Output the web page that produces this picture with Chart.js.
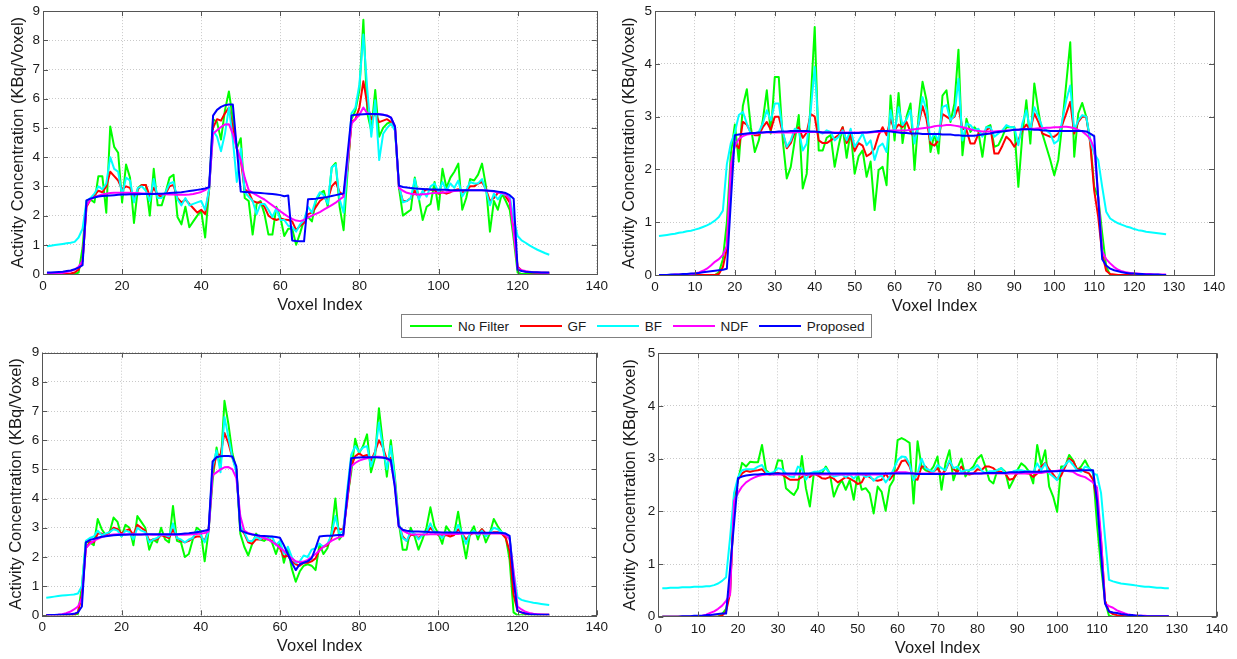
<!DOCTYPE html>
<html>
<head>
<meta charset="utf-8">
<title>Activity concentration profiles</title>
<script src="https://cdn.jsdelivr.net/npm/chart.js@4.4.1/dist/chart.umd.min.js"></script>
<style>
  html, body { margin: 0; padding: 0; background: #fff; }
  body { width: 1237px; height: 659px; position: relative; overflow: hidden;
         font-family: "Liberation Sans", Arial, Helvetica, sans-serif; }
  .panel { position: absolute; }
  #legend { position: absolute; left: 401px; top: 314px; width: 471px; height: 24px;
            box-sizing: border-box; border: 1px solid #808080; background: #fff;
            display: flex; align-items: center; padding-left: 8px;
            font-size: 13.5px; color: #1a1a1a; white-space: nowrap; }
  #legend .item { display: flex; align-items: center; flex: none; margin-right: 10.5px; }
  #legend .swatch { width: 42px; height: 2px; margin-right: 6px; flex: none; }
</style>
</head>
<body>
<div class="panel" style="left:0px;top:0px"><canvas id="profTopLeft" width="612" height="320"></canvas></div>
<div class="panel" style="left:612px;top:0px"><canvas id="profTopRight" width="625" height="320"></canvas></div>
<div class="panel" style="left:0px;top:340px"><canvas id="profBottomLeft" width="612" height="319"></canvas></div>
<div class="panel" style="left:612px;top:340px"><canvas id="profBottomRight" width="625" height="319"></canvas></div>
<div id="legend"></div>
<script>
// filters compared in every panel
var seriesNames = ['No Filter', 'GF', 'BF', 'NDF', 'Proposed'];
var seriesColors = ['#00ff00', '#ff0000', '#00ffff', '#ff00ff', '#0000ff'];

// tick labels
var xTicksWide = [0, 20, 40, 60, 80, 100, 120, 140];
var xTicksFine = [0, 10, 20, 30, 40, 50, 60, 70, 80, 90, 100, 110, 120, 130, 140];
var yTicksTall = [0, 1, 2, 3, 4, 5, 6, 7, 8, 9];
var yTicksShort = [0, 1, 2, 3, 4, 5];

// ---- top left profile (voxel 1..128) ----
var tlNoFilter = [
  0,0,0,0,0,0,0,0,0.05,0.90,
  2.50,2.55,2.45,3.35,3.35,2.10,5.05,4.35,4.15,2.45,
  3.75,3.30,1.75,2.95,3.05,3.05,2.00,3.60,2.35,2.35,
  2.80,3.30,3.40,1.95,1.70,2.30,1.60,1.80,2.00,2.15,
  1.25,2.90,5.30,5.20,4.60,5.60,6.25,5.30,4.30,4.65,
  2.60,2.50,1.35,2.40,2.50,2.05,1.35,1.35,2.30,1.95,
  1.30,1.55,1.55,1.00,1.40,1.85,1.95,1.80,2.50,2.75,
  2.85,2.30,3.65,3.80,2.30,1.50,3.50,5.30,5.60,6.30,
  8.70,5.50,4.90,6.30,4.70,5.00,5.15,5.20,4.95,2.95,
  2.00,2.10,2.20,3.30,2.60,1.85,2.30,2.40,3.15,2.20,
  3.60,2.95,3.30,3.50,3.78,2.20,2.60,3.25,3.20,3.40,
  3.78,3.00,1.45,2.50,2.20,2.75,2.50,2.20,1.20,0.05,
  0,0,0,0,0,0,0,0
];
var tlGF = [
  0,0,0,0,0,0,0.02,0.05,0.15,0.45,
  2.30,2.55,2.70,2.85,2.80,3.00,3.50,3.35,3.20,2.90,
  3.00,2.95,2.60,2.90,3.05,3.05,2.65,2.95,2.70,2.65,
  2.75,3.00,3.05,2.60,2.45,2.55,2.40,2.25,2.10,2.20,
  2.05,2.90,5.00,5.30,5.25,5.50,5.70,5.00,4.30,3.90,
  2.90,2.80,2.50,2.45,2.45,2.30,2.00,1.90,1.85,1.90,
  1.87,1.85,1.80,1.50,1.65,1.75,2.05,2.10,2.30,2.50,
  2.60,2.55,3.00,3.15,2.80,2.70,3.60,5.20,5.30,5.70,
  6.60,5.80,5.30,5.50,5.20,5.25,5.30,5.20,5.00,2.98,
  2.50,2.50,2.60,2.85,2.62,2.80,2.90,2.88,2.87,2.75,
  2.80,2.75,2.80,2.87,2.90,2.80,2.85,3.00,3.00,3.10,
  3.15,2.90,2.50,2.60,2.78,2.80,2.65,2.45,1.50,0.25,
  0.12,0.08,0.06,0.05,0.04,0.04,0.04,0.04
];
var tlBF = [
  0.95,0.97,0.99,1.01,1.03,1.05,1.07,1.10,1.25,1.55,
  2.50,2.60,2.75,3.00,2.90,3.10,4.00,3.60,3.50,2.70,
  3.30,3.20,2.45,2.95,3.00,2.85,2.50,3.25,2.60,2.60,
  2.80,3.10,3.15,2.55,2.35,2.60,2.35,2.40,2.45,2.50,
  2.20,2.90,4.90,4.70,4.20,4.80,5.70,4.60,3.15,4.30,
  2.80,2.65,2.50,2.05,2.40,2.40,2.20,1.95,2.25,1.85,
  1.85,1.65,1.60,1.45,1.70,1.85,2.30,2.10,2.55,2.80,
  2.70,2.40,3.65,3.75,2.55,2.10,3.70,5.50,5.70,6.50,
  8.20,6.30,4.70,5.95,3.90,4.80,5.00,5.15,4.90,3.05,
  2.45,2.50,2.60,3.25,2.55,2.85,2.65,3.00,3.10,2.80,
  3.15,2.85,3.10,2.95,3.20,2.65,2.87,3.15,3.10,3.10,
  3.25,2.85,2.35,2.75,2.55,2.75,2.70,2.65,1.90,1.30,
  1.15,1.07,0.98,0.90,0.83,0.77,0.71,0.66
];
var tlNDF = [
  0,0,0.01,0.02,0.04,0.07,0.10,0.15,0.25,0.45,
  2.35,2.55,2.63,2.68,2.72,2.75,2.77,2.78,2.78,2.78,
  2.78,2.78,2.77,2.77,2.76,2.76,2.75,2.75,2.74,2.74,
  2.73,2.72,2.72,2.71,2.71,2.71,2.72,2.74,2.77,2.81,
  2.87,2.97,4.80,4.92,5.03,5.12,5.13,4.80,4.30,3.90,
  3.30,2.87,2.78,2.70,2.62,2.55,2.45,2.35,2.25,2.15,
  2.05,1.96,1.89,1.83,1.81,1.85,1.93,2.00,2.06,2.12,
  2.20,2.28,2.36,2.44,2.55,2.65,3.90,5.15,5.30,5.45,
  5.70,5.50,5.48,5.48,5.47,5.45,5.43,5.35,5.05,2.95,
  2.85,2.78,2.75,2.73,2.72,2.73,2.74,2.76,2.77,2.78,
  2.79,2.80,2.82,2.84,2.85,2.86,2.87,2.87,2.87,2.87,
  2.87,2.86,2.84,2.82,2.79,2.77,2.74,2.55,1.40,0.20,
  0.13,0.10,0.08,0.06,0.05,0.04,0.04,0.03
];
var tlProposed = [
  0.05,0.05,0.06,0.07,0.08,0.10,0.12,0.16,0.22,0.30,
  2.52,2.58,2.62,2.65,2.67,2.68,2.69,2.70,2.71,2.72,
  2.72,2.73,2.73,2.73,2.74,2.74,2.74,2.74,2.75,2.75,
  2.76,2.77,2.78,2.79,2.80,2.82,2.84,2.86,2.88,2.90,
  2.93,2.97,5.42,5.62,5.72,5.78,5.80,5.80,4.30,2.82,
  2.81,2.80,2.79,2.78,2.77,2.76,2.75,2.74,2.72,2.70,
  2.66,2.69,1.15,1.13,1.12,1.12,2.56,2.57,2.58,2.60,
  2.62,2.64,2.67,2.70,2.73,2.76,4.10,5.43,5.45,5.46,
  5.47,5.48,5.48,5.48,5.47,5.45,5.42,5.35,5.05,3.02,
  2.98,2.96,2.94,2.93,2.92,2.91,2.90,2.89,2.89,2.88,
  2.88,2.88,2.87,2.87,2.87,2.87,2.87,2.87,2.87,2.87,
  2.87,2.86,2.85,2.84,2.82,2.80,2.77,2.70,2.58,0.14,
  0.10,0.08,0.07,0.06,0.06,0.05,0.05,0.05
];

// ---- top right profile ----
var trNoFilter = [
  0,0,0,0,0,0,0,0,0,0,
  0,0,0,0,0,0.05,0.30,1.00,2.30,2.85,
  2.15,3.20,3.52,2.80,2.33,2.55,2.93,3.50,2.68,3.75,
  3.75,2.55,1.83,2.05,2.55,3.03,1.64,1.92,3.31,4.70,
  2.36,2.36,2.60,2.65,2.05,2.45,2.80,2.22,2.72,1.92,
  2.25,2.36,1.86,2.15,1.23,1.99,2.05,1.70,3.40,2.55,
  3.45,2.50,3.00,3.25,1.99,3.00,3.66,3.31,2.33,2.68,
  2.30,3.40,3.50,2.90,3.25,4.27,2.27,2.96,2.71,2.80,
  2.71,2.24,2.80,2.84,2.43,2.46,2.62,2.80,2.80,2.80,
  1.67,2.65,3.31,2.49,3.63,3.12,2.68,2.43,2.18,1.89,
  2.18,2.87,3.63,4.41,2.24,3.06,3.26,3.00,2.55,1.67,
  1.48,0.79,0.16,0,0,0,0,0,0,0,
  0,0,0,0,0,0,0,0
];
var trGF = [
  0,0,0,0,0,0,0,0,0,0,
  0,0,0,0,0,0.02,0.15,0.50,2.00,2.50,
  2.40,2.90,2.85,2.70,2.65,2.65,2.80,2.90,2.75,3.00,
  3.00,2.70,2.40,2.50,2.70,2.80,2.60,2.70,3.05,3.00,
  2.55,2.50,2.50,2.55,2.60,2.65,2.80,2.50,2.65,2.35,
  2.50,2.45,2.25,2.30,2.40,2.65,2.80,2.65,2.95,2.75,
  2.85,2.80,2.90,2.71,2.60,2.85,3.20,2.95,2.49,2.45,
  2.55,3.05,3.00,2.95,3.00,3.18,2.77,2.75,2.49,2.49,
  2.68,2.65,2.75,2.80,2.30,2.30,2.45,2.62,2.55,2.43,
  2.55,2.75,2.85,2.75,3.06,2.90,2.68,2.65,2.62,2.62,
  2.68,2.85,3.06,3.28,2.68,2.90,3.00,3.00,2.50,1.60,
  1.10,0.40,0.08,0.02,0.01,0,0,0,0,0,
  0,0,0,0,0,0,0,0
];
var trBF = [
  0.74,0.75,0.76,0.77,0.78,0.80,0.81,0.83,0.84,0.86,
  0.88,0.91,0.94,0.98,1.03,1.10,1.22,2.10,2.50,2.70,
  3.03,3.09,2.87,2.68,2.68,2.71,2.87,3.12,2.93,3.25,
  3.25,2.71,2.43,2.55,2.77,2.74,2.36,2.49,3.12,3.94,
  2.71,2.68,2.74,2.71,2.55,2.62,2.74,2.55,2.77,2.43,
  2.55,2.68,2.46,2.55,2.18,2.43,2.49,2.33,3.12,2.71,
  3.18,2.84,2.95,3.12,2.49,2.87,3.37,3.12,2.55,2.68,
  2.55,3.18,3.22,2.93,3.03,3.72,2.55,2.87,2.84,2.74,
  2.77,2.62,2.80,2.80,2.62,2.68,2.74,2.84,2.80,2.80,
  2.46,2.87,3.12,2.74,3.18,3.00,2.80,2.74,2.68,2.49,
  2.55,2.93,3.31,3.59,2.74,2.93,3.03,3.00,2.55,2.30,
  2.18,1.67,1.20,1.07,1.02,0.98,0.95,0.92,0.90,0.87,
  0.85,0.84,0.82,0.81,0.80,0.79,0.78,0.77
];
var trNDF = [
  0,0,0,0,0.01,0.01,0.01,0.02,0.02,0.03,
  0.05,0.08,0.12,0.18,0.25,0.30,0.38,0.55,2.10,2.45,
  2.58,2.63,2.66,2.67,2.68,2.69,2.70,2.70,2.70,2.70,
  2.70,2.70,2.70,2.70,2.70,2.71,2.71,2.71,2.71,2.71,
  2.71,2.70,2.70,2.70,2.70,2.70,2.70,2.70,2.70,2.70,
  2.70,2.70,2.70,2.70,2.71,2.71,2.72,2.73,2.74,2.74,
  2.74,2.74,2.74,2.75,2.76,2.77,2.78,2.79,2.80,2.82,
  2.83,2.83,2.84,2.84,2.83,2.82,2.80,2.78,2.76,2.74,
  2.73,2.72,2.72,2.72,2.72,2.73,2.73,2.74,2.74,2.75,
  2.75,2.76,2.76,2.77,2.77,2.78,2.78,2.79,2.79,2.80,
  2.80,2.81,2.81,2.80,2.78,2.75,2.72,2.66,2.58,2.40,
  1.50,0.45,0.30,0.22,0.15,0.10,0.07,0.05,0.04,0.03,
  0.03,0.02,0.02,0.02,0.01,0.01,0.01,0.01
];
var trProposed = [
  0,0,0,0.01,0.01,0.01,0.02,0.02,0.03,0.03,
  0.04,0.05,0.06,0.07,0.08,0.09,0.10,0.12,1.40,2.65,
  2.66,2.67,2.68,2.69,2.69,2.70,2.70,2.71,2.71,2.71,
  2.72,2.72,2.72,2.73,2.73,2.73,2.73,2.73,2.72,2.72,
  2.71,2.70,2.70,2.70,2.69,2.69,2.69,2.69,2.69,2.69,
  2.69,2.70,2.70,2.71,2.72,2.73,2.73,2.73,2.72,2.71,
  2.70,2.69,2.69,2.68,2.68,2.68,2.67,2.67,2.67,2.67,
  2.67,2.66,2.66,2.66,2.65,2.65,2.64,2.64,2.64,2.64,
  2.65,2.66,2.67,2.68,2.70,2.71,2.72,2.73,2.74,2.75,
  2.75,2.76,2.76,2.76,2.75,2.75,2.74,2.74,2.73,2.73,
  2.73,2.73,2.73,2.73,2.73,2.73,2.73,2.72,2.68,2.63,
  1.45,0.30,0.18,0.12,0.09,0.07,0.05,0.04,0.03,0.03,
  0.02,0.02,0.01,0.01,0.01,0.01,0,0
];

// ---- bottom left profile ----
var blNoFilter = [
  0,0,0,0,0,0,0,0,0.05,1.00,
  2.50,2.50,2.40,3.30,2.95,2.75,2.85,3.35,3.20,2.70,
  3.10,3.00,2.40,3.40,3.20,3.00,2.25,2.60,2.50,3.00,
  2.60,2.50,3.75,2.55,2.50,2.00,2.10,2.60,3.00,2.90,
  1.85,2.90,4.60,5.75,5.00,7.35,6.55,5.55,5.00,2.80,
  2.35,2.05,2.45,2.80,2.60,2.55,2.65,2.50,2.10,2.50,
  1.80,2.30,1.60,1.15,1.50,1.70,1.75,1.70,1.55,2.45,
  2.10,2.30,2.80,4.00,2.60,2.80,4.00,4.90,6.05,5.55,
  5.80,6.20,4.90,5.40,7.10,5.90,4.75,6.00,4.80,3.20,
  2.25,2.25,3.00,2.70,2.25,2.60,3.00,3.70,3.05,2.80,
  2.45,3.05,2.85,2.80,3.55,2.70,1.95,2.80,3.05,2.60,
  2.95,2.50,2.80,3.30,3.05,2.85,2.70,1.90,0.10,0,
  0,0,0,0,0,0,0,0
];
var blGF = [
  0,0,0,0,0,0,0,0.02,0.10,0.70,
  2.30,2.50,2.50,2.80,2.80,2.75,2.85,3.00,2.95,2.80,
  2.90,2.95,2.75,3.10,3.00,2.90,2.55,2.60,2.60,2.75,
  2.70,2.65,2.95,2.65,2.55,2.50,2.55,2.65,2.70,2.70,
  2.55,2.95,4.90,5.50,5.50,6.25,5.90,5.40,5.00,3.00,
  2.80,2.50,2.45,2.60,2.60,2.65,2.60,2.55,2.45,2.30,
  2.00,2.05,1.85,1.75,1.70,1.80,1.80,1.85,1.95,2.25,
  2.35,2.40,2.65,3.00,2.95,2.95,3.90,5.10,5.45,5.55,
  5.45,5.50,5.30,5.60,6.00,5.75,5.35,5.40,4.60,3.10,
  2.70,2.55,2.75,2.75,2.65,2.75,2.80,3.00,2.85,2.75,
  2.70,2.75,2.70,2.75,2.95,2.80,2.60,2.75,2.85,2.80,
  2.95,2.80,2.80,2.85,2.85,2.80,2.65,2.20,0.70,0.15,
  0.10,0.05,0.04,0.03,0.02,0.02,0.02,0.02
];
var blBF = [
  0.60,0.62,0.64,0.66,0.68,0.69,0.70,0.71,0.75,1.00,
  2.55,2.65,2.70,2.90,2.75,2.80,2.85,2.95,2.90,2.70,
  2.90,2.85,2.60,3.00,2.90,2.85,2.50,2.60,2.65,2.75,
  2.75,2.70,3.15,2.65,2.60,2.50,2.60,2.65,2.90,2.75,
  2.50,2.90,5.10,5.65,4.90,6.80,6.10,5.40,4.90,3.05,
  2.85,2.55,2.55,2.70,2.60,2.70,2.60,2.70,2.40,2.55,
  2.10,2.35,2.00,1.80,1.85,2.05,2.00,2.25,2.30,2.45,
  2.35,2.45,2.75,3.40,2.80,2.90,4.30,5.50,5.80,5.60,
  5.75,5.80,5.10,5.55,6.60,5.75,5.00,5.80,4.70,3.15,
  2.65,2.55,2.85,2.80,2.60,2.75,2.85,3.15,2.85,2.80,
  2.65,2.85,2.80,2.80,3.10,2.80,2.45,2.80,2.90,2.75,
  2.90,2.70,2.85,3.00,2.95,2.85,2.80,2.65,1.50,0.62,
  0.53,0.49,0.46,0.43,0.41,0.39,0.37,0.35
];
var blNDF = [
  0,0,0.01,0.02,0.04,0.07,0.12,0.20,0.30,0.60,
  2.30,2.45,2.55,2.62,2.68,2.72,2.75,2.77,2.78,2.78,
  2.78,2.78,2.78,2.77,2.77,2.77,2.77,2.76,2.76,2.76,
  2.76,2.76,2.76,2.76,2.76,2.76,2.77,2.78,2.79,2.80,
  2.82,2.88,4.80,4.90,5.00,5.07,5.08,5.00,4.70,3.40,
  2.90,2.82,2.78,2.74,2.70,2.65,2.60,2.52,2.43,2.32,
  2.20,2.08,1.95,1.85,1.82,1.84,1.90,2.00,2.10,2.22,
  2.35,2.45,2.55,2.62,2.68,2.72,4.00,5.10,5.22,5.30,
  5.35,5.38,5.41,5.43,5.43,5.42,5.38,5.25,4.50,3.05,
  2.90,2.83,2.78,2.77,2.77,2.77,2.77,2.78,2.78,2.78,
  2.78,2.78,2.79,2.79,2.79,2.80,2.80,2.80,2.80,2.80,
  2.80,2.80,2.80,2.80,2.80,2.80,2.75,2.60,1.50,0.30,
  0.20,0.12,0.08,0.05,0.04,0.03,0.02,0.02
];
var blProposed = [
  0,0.01,0.01,0.02,0.02,0.03,0.04,0.05,0.10,0.30,
  2.50,2.58,2.62,2.66,2.69,2.71,2.73,2.74,2.75,2.76,
  2.76,2.77,2.77,2.77,2.77,2.78,2.78,2.78,2.78,2.78,
  2.78,2.78,2.78,2.78,2.79,2.80,2.81,2.83,2.85,2.87,
  2.90,2.93,5.27,5.42,5.45,5.46,5.46,5.44,5.10,2.90,
  2.85,2.80,2.77,2.75,2.73,2.72,2.71,2.70,2.68,2.66,
  2.40,2.10,1.80,1.55,1.75,1.80,1.85,1.95,2.30,2.70,
  2.72,2.73,2.73,2.74,2.75,2.76,4.10,5.38,5.40,5.41,
  5.42,5.42,5.42,5.42,5.41,5.40,5.38,5.32,4.40,3.05,
  2.93,2.90,2.88,2.87,2.87,2.86,2.86,2.85,2.85,2.85,
  2.84,2.84,2.84,2.84,2.84,2.83,2.83,2.83,2.83,2.83,
  2.83,2.83,2.83,2.83,2.83,2.82,2.80,2.72,1.20,0.15,
  0.10,0.06,0.04,0.03,0.02,0.02,0.02,0.02
];

// ---- bottom right profile ----
var brNoFilter = [
  0,0,0,0,0,0,0,0,0,0,
  0,0,0,0,0,0.05,0.15,0.50,2.20,2.60,
  2.92,2.85,2.94,2.93,2.93,3.26,2.78,2.72,2.70,2.97,
  2.96,2.44,2.37,2.31,2.44,3.05,2.44,2.09,2.72,2.75,
  2.72,2.85,2.72,2.28,2.47,2.59,2.41,2.59,2.22,2.72,
  2.41,2.44,2.34,1.96,2.47,2.37,2.01,2.47,2.60,3.35,
  3.39,3.35,3.30,2.15,3.33,2.85,2.78,2.75,2.85,3.04,
  2.41,2.91,3.16,2.59,2.82,3.00,2.66,2.78,2.85,3.00,
  3.07,2.85,2.59,2.53,2.78,2.82,2.75,2.44,2.59,2.78,
  2.91,2.85,2.75,2.53,3.26,2.88,3.16,2.47,2.28,1.99,
  2.85,2.85,3.07,2.97,2.78,2.85,2.97,2.82,2.75,1.75,
  0.95,0.30,0.02,0,0,0,0,0,0,0,
  0,0,0,0,0,0,0,0
];
var brGF = [
  0,0,0,0,0,0,0,0,0,0,
  0,0,0,0,0,0.02,0.10,0.45,2.30,2.60,
  2.72,2.77,2.75,2.77,2.78,2.80,2.72,2.70,2.72,2.73,
  2.70,2.65,2.60,2.60,2.60,2.65,2.70,2.65,2.72,2.68,
  2.63,2.62,2.65,2.62,2.55,2.60,2.65,2.62,2.58,2.52,
  2.55,2.70,2.65,2.60,2.58,2.60,2.72,2.60,2.70,2.80,
  2.95,2.97,2.85,2.62,2.60,2.85,2.85,2.75,2.75,2.82,
  2.70,2.78,2.95,2.80,2.75,2.85,2.72,2.70,2.72,2.80,
  2.78,2.85,2.85,2.82,2.75,2.75,2.72,2.60,2.62,2.72,
  2.75,2.73,2.72,2.65,2.72,2.85,2.92,2.80,2.70,2.60,
  2.68,2.85,3.00,2.95,2.80,2.80,2.75,2.72,2.60,2.20,
  1.45,0.30,0.10,0.05,0.03,0.02,0.01,0.01,0,0,
  0,0,0,0,0,0,0,0
];
var brBF = [
  0.54,0.54,0.55,0.55,0.55,0.56,0.56,0.56,0.57,0.57,
  0.57,0.58,0.58,0.60,0.63,0.68,0.75,1.50,2.35,2.65,
  2.78,2.80,2.80,2.80,2.85,2.88,2.75,2.72,2.75,2.82,
  2.80,2.72,2.66,2.65,2.85,2.80,2.60,2.72,2.75,2.75,
  2.78,2.82,2.72,2.66,2.68,2.70,2.65,2.70,2.62,2.70,
  2.70,2.65,2.68,2.58,2.65,2.68,2.55,2.65,2.80,2.97,
  3.04,3.03,2.90,2.59,2.72,3.00,2.82,2.78,2.75,2.88,
  2.82,2.78,2.97,2.82,2.85,2.75,2.78,2.78,2.80,2.88,
  2.78,2.72,2.76,2.76,2.78,2.82,2.72,2.72,2.76,2.78,
  2.78,2.76,2.76,2.74,2.91,2.78,2.91,2.72,2.66,2.59,
  2.78,2.88,2.97,2.88,2.78,2.75,2.85,2.82,2.72,2.69,
  2.35,1.50,0.70,0.67,0.65,0.63,0.62,0.61,0.60,0.59,
  0.58,0.57,0.57,0.56,0.55,0.55,0.54,0.54
];
var brNDF = [
  0,0,0,0,0,0,0,0,0.01,0.01,
  0.02,0.04,0.07,0.10,0.15,0.21,0.30,0.42,2.20,2.35,
  2.47,2.55,2.60,2.64,2.67,2.69,2.70,2.70,2.70,2.70,
  2.70,2.70,2.70,2.70,2.70,2.70,2.70,2.70,2.70,2.70,
  2.70,2.70,2.70,2.70,2.70,2.70,2.70,2.70,2.70,2.70,
  2.70,2.70,2.70,2.70,2.70,2.71,2.71,2.72,2.73,2.74,
  2.74,2.74,2.73,2.72,2.72,2.72,2.72,2.72,2.72,2.72,
  2.72,2.72,2.72,2.72,2.72,2.72,2.72,2.72,2.72,2.72,
  2.72,2.72,2.72,2.72,2.72,2.72,2.72,2.72,2.72,2.72,
  2.72,2.72,2.72,2.73,2.73,2.73,2.74,2.75,2.76,2.77,
  2.78,2.77,2.76,2.75,2.70,2.67,2.65,2.60,2.55,2.45,
  1.50,0.25,0.20,0.17,0.12,0.09,0.06,0.04,0.03,0.02,
  0.02,0.02,0.01,0.01,0.01,0.01,0.01,0.01
];
var brProposed = [
  0,0,0,0,0,0.01,0.01,0.01,0.02,0.02,
  0.02,0.03,0.03,0.04,0.05,0.06,0.06,0.92,1.77,2.63,
  2.66,2.68,2.69,2.70,2.70,2.71,2.71,2.71,2.72,2.72,
  2.72,2.72,2.72,2.72,2.72,2.72,2.72,2.72,2.72,2.72,
  2.72,2.72,2.72,2.72,2.72,2.72,2.72,2.72,2.72,2.72,
  2.72,2.72,2.72,2.72,2.72,2.72,2.72,2.72,2.72,2.72,
  2.72,2.72,2.72,2.72,2.71,2.71,2.71,2.71,2.71,2.71,
  2.71,2.71,2.72,2.72,2.72,2.72,2.72,2.72,2.72,2.72,
  2.72,2.73,2.73,2.73,2.73,2.73,2.73,2.74,2.74,2.74,
  2.74,2.75,2.75,2.75,2.75,2.75,2.76,2.76,2.76,2.76,
  2.77,2.77,2.77,2.77,2.77,2.78,2.78,2.78,2.78,2.20,
  1.20,0.25,0.10,0.08,0.07,0.05,0.04,0.03,0.03,0.02,
  0.02,0.01,0.01,0.01,0.01,0.01,0.01,0.01
];

var FONT = '"Liberation Sans", Arial, Helvetica, sans-serif';
var INK = '#1a1a1a';
var FRAME = '#555555';

// box around the plot area with short inward tick marks on all four sides
var axesBox = {
  id: 'axesBox',
  afterDraw: function(chart) {
    var ctx = chart.ctx, a = chart.chartArea;
    var xs = chart.scales.x, ys = chart.scales.y;
    ctx.save();
    ctx.strokeStyle = FRAME;
    ctx.lineWidth = 1;
    ctx.beginPath();
    xs.ticks.forEach(function(t) {
      var px = Math.round(xs.getPixelForValue(t.value)) + 0.5;
      ctx.moveTo(px, a.bottom); ctx.lineTo(px, a.bottom - 5);
      ctx.moveTo(px, a.top); ctx.lineTo(px, a.top + 5);
    });
    ys.ticks.forEach(function(t) {
      var py = Math.round(ys.getPixelForValue(t.value)) + 0.5;
      ctx.moveTo(a.left, py); ctx.lineTo(a.left + 5, py);
      ctx.moveTo(a.right, py); ctx.lineTo(a.right - 5, py);
    });
    ctx.stroke();
    ctx.strokeRect(Math.round(a.left) + 0.5, Math.round(a.top) + 0.5,
                   Math.round(a.right - a.left), Math.round(a.bottom - a.top));
    ctx.restore();
  }
};

function drawProfile(canvasId, series, xTicks, yTicks, box) {
  var voxel = series[0].map(function(_, i) { return i + 1; });
  var datasets = series.map(function(vals, k) {
    return {
      label: seriesNames[k],
      data: vals.map(function(v, i) { return { x: voxel[i], y: v }; }),
      borderColor: seriesColors[k],
      backgroundColor: seriesColors[k],
      borderWidth: 2,
      borderJoinStyle: 'round',
      pointRadius: 0,
      tension: 0,
      fill: false,
      order: series.length - 1 - k
    };
  });

  return new Chart(document.getElementById(canvasId), {
    type: 'line',
    data: { datasets: datasets },
    options: {
      responsive: false,
      animation: false,
      events: [],
      layout: { padding: { left: 0, top: box.top, right: box.right, bottom: 0 } },
      plugins: { legend: { display: false }, tooltip: { enabled: false } },
      scales: {
        x: {
          type: 'linear',
          min: xTicks[0],
          max: xTicks[xTicks.length - 1],
          afterBuildTicks: function(s) { s.ticks = xTicks.map(function(v) { return { value: v }; }); },
          afterFit: function(s) { s.height = box.xh; },
          grid: { color: '#c9c9c9', lineWidth: 1, drawTicks: false },
          border: { display: false, dash: [1, 2] },
          ticks: { padding: 4, maxRotation: 0, autoSkip: false, color: INK,
                   font: { family: FONT, size: 13.5 } },
          title: { display: true, text: 'Voxel Index', color: INK,
                   font: { family: FONT, size: 16.5 },
                   padding: { top: 0, bottom: box.xt } }
        },
        y: {
          min: yTicks[0],
          max: yTicks[yTicks.length - 1],
          afterBuildTicks: function(s) { s.ticks = yTicks.map(function(v) { return { value: v }; }); },
          afterFit: function(s) { s.width = box.yw; },
          grid: { color: '#c9c9c9', lineWidth: 1, drawTicks: false },
          border: { display: false, dash: [1, 2] },
          ticks: { padding: 3, autoSkip: false, color: INK,
                   font: { family: FONT, size: 13.5 } },
          title: { display: true, text: 'Activity Concentration (KBq/Voxel)', color: INK,
                   font: { family: FONT, size: 16.5 },
                   padding: { top: box.yt, bottom: 0 } }
        }
      }
    },
    plugins: [axesBox]
  });
}

drawProfile('profTopLeft',
  [tlNoFilter, tlGF, tlBF, tlNDF, tlProposed], xTicksWide, yTicksTall,
  { top: 10.7, right: 9, yw: 43, xh: 46, yt: 8.6, xt: 5 });
drawProfile('profTopRight',
  [trNoFilter, trGF, trBF, trNDF, trProposed], xTicksFine, yTicksShort,
  { top: 10.7, right: 23, yw: 43, xh: 45, yt: 7.2, xt: 4 });
drawProfile('profBottomLeft',
  [blNoFilter, blGF, blBF, blNDF, blProposed], xTicksWide, yTicksTall,
  { top: 12.7, right: 10.3, yw: 42.3, xh: 43.7, yt: 6.5, xt: 2.4 });
drawProfile('profBottomRight',
  [brNoFilter, brGF, brBF, brNDF, brProposed], xTicksFine, yTicksShort,
  { top: 13.3, right: 20.3, yw: 46.3, xh: 42.3, yt: 9, xt: 0.6 });

// shared legend strip between the two rows
var legend = document.getElementById('legend');
seriesNames.forEach(function(name, k) {
  var item = document.createElement('div');
  item.className = 'item';
  var sw = document.createElement('span');
  sw.className = 'swatch';
  sw.style.background = seriesColors[k];
  var txt = document.createElement('span');
  txt.textContent = name;
  item.appendChild(sw);
  item.appendChild(txt);
  legend.appendChild(item);
});
</script>
</body>
</html>
